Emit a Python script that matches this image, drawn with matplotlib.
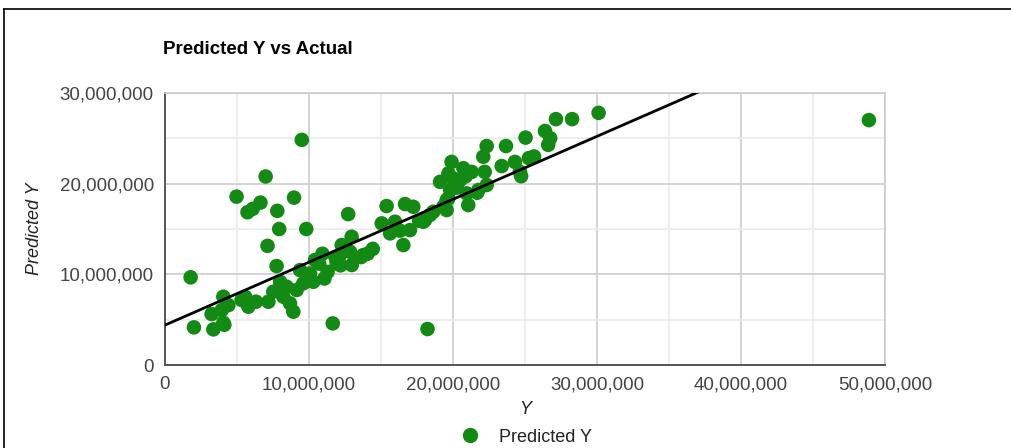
import numpy as np
import matplotlib.pyplot as plt
from matplotlib.lines import Line2D
from matplotlib.ticker import FuncFormatter, MultipleLocator

# actual Y (millions) and predicted Y (millions)
actual = [1.78, 2.01, 3.24, 3.36, 3.94, 4.05, 4.12, 4.05, 4.4, 4.97,
          5.32, 5.56, 5.79, 5.73, 6.09, 6.32, 6.63, 6.99, 7.12, 7.18,
          7.52, 7.75, 7.8, 7.93, 7.99, 8.22, 8.45, 8.68, 8.91, 8.96,
          9.14, 9.38, 9.5, 9.6, 9.81, 10.07, 10.3, 10.42, 10.71, 10.93,
          11.07, 11.29, 11.65, 11.83, 11.92, 12.15, 12.19, 12.27, 12.72, 12.85,
          12.96, 12.97, 13.62, 13.77, 14.07, 14.43, 15.05, 15.39, 15.63, 15.97,
          16.31, 16.55, 16.67, 17.01, 17.24, 17.65, 17.94, 18.06, 18.23, 18.4,
          18.63, 19.1, 19.33, 19.56, 19.56, 19.68, 19.68, 19.8, 19.9, 19.98,
          20.21, 20.26, 20.5, 20.72, 20.88, 20.95, 21.06, 21.3, 21.68, 21.76,
          22.1, 22.2, 22.34, 22.34, 23.38, 23.68, 24.3, 24.65, 24.73, 25.04,
          25.27, 25.63, 26.39, 26.61, 26.75, 27.15, 28.27, 30.11, 48.88]
predicted = [9.67, 4.15, 5.62, 3.93, 6.06, 4.66, 4.44, 7.53, 6.6, 18.57,
             7.17, 7.53, 6.43, 16.85, 17.22, 6.98, 17.91, 20.79, 13.14, 6.98,
             8.08, 10.91, 17.0, 15.0, 9.18, 7.53, 8.63, 6.8, 5.88, 18.46,
             8.27, 10.47, 24.83, 9.0, 15.0, 10.1, 9.18, 11.58, 11.18, 12.27,
             9.54, 10.27, 4.59, 11.9, 11.21, 12.13, 10.99, 13.23, 16.64, 12.49,
             14.15, 11.03, 11.9, 12.13, 12.27, 12.81, 15.62, 17.53, 14.52, 15.8,
             14.82, 13.23, 17.75, 14.88, 17.45, 15.91, 15.8, 15.99, 3.97, 16.54,
             16.9, 20.2, 17.45, 18.19, 17.09, 18.38, 21.13, 19.3, 22.4, 20.6,
             19.55, 19.66, 20.4, 21.7, 20.82, 18.93, 17.64, 21.3, 19.0, 19.3,
             22.97, 21.3, 19.85, 24.15, 21.94, 24.15, 22.4, 21.3, 20.82, 25.08,
             22.82, 23.0, 25.81, 24.28, 25.01, 27.12, 27.12, 27.81, 27.01]

# linear trendline (millions)
trend_intercept = 4.4
trend_slope = 0.694

x = np.array(actual) * 1e6
y = np.array(predicted) * 1e6

plt.rcParams['font.family'] = ['Liberation Sans', 'DejaVu Sans']

fig = plt.figure(figsize=(10.11, 4.48), dpi=100)
ax = fig.add_axes([165 / 1011, 83 / 448, 720 / 1011, 272 / 448])

ax.set_xlim(0, 50e6)
ax.set_ylim(0, 30e6)
ax.xaxis.set_major_locator(MultipleLocator(10e6))
ax.xaxis.set_minor_locator(MultipleLocator(5e6))
ax.yaxis.set_major_locator(MultipleLocator(10e6))
ax.yaxis.set_minor_locator(MultipleLocator(5e6))
ax.grid(which='major', color='#cccccc', lw=1.2, zorder=0)
ax.grid(which='minor', color='#ebebeb', lw=1.2, zorder=0)
ax.tick_params(which='both', length=0)
ax.tick_params(labelsize=13.5, labelcolor='#444444', pad=8)
fmt = FuncFormatter(lambda v, p: '{:,.0f}'.format(v))
ax.xaxis.set_major_formatter(fmt)
ax.yaxis.set_major_formatter(fmt)

for s in ['top', 'right']:
    ax.spines[s].set_color('#cccccc')
    ax.spines[s].set_linewidth(1.2)
for s in ['left', 'bottom']:
    ax.spines[s].set_color('#555555')
    ax.spines[s].set_linewidth(1.4)

ax.scatter(x, y, s=110, color='#138a13', edgecolors='none', zorder=3, label='Predicted Y')

tx = np.array([0, 50e6])
ax.plot(tx, trend_intercept * 1e6 + trend_slope * tx, color='black', lw=2, zorder=4)

ax.set_xlabel('Y', fontsize=13, color='#222222', style='italic', labelpad=6)
ax.set_ylabel('Predicted Y', fontsize=13, color='#222222', style='italic', labelpad=12)

fig.text(163 / 1011, 1 - 50 / 448, 'Predicted Y vs Actual', fontsize=13.5,
         fontweight='bold', va='center', ha='left')

handle = Line2D([], [], marker='o', ls='none', color='#138a13', markersize=10)
fig.legend([handle], ['Predicted Y'], loc='center', bbox_to_anchor=(522 / 1011, 1 - 437 / 448),
           frameon=False, fontsize=13, handletextpad=0.6, labelcolor='#222222')

# screenshot frame
fig.add_artist(Line2D([4 / 1011, 1], [1 - 9 / 448, 1 - 9 / 448], color='black', lw=1.2))
fig.add_artist(Line2D([4 / 1011, 4 / 1011], [0, 1 - 9 / 448], color='black', lw=1.2))

fig.savefig('out.png', dpi=100)
